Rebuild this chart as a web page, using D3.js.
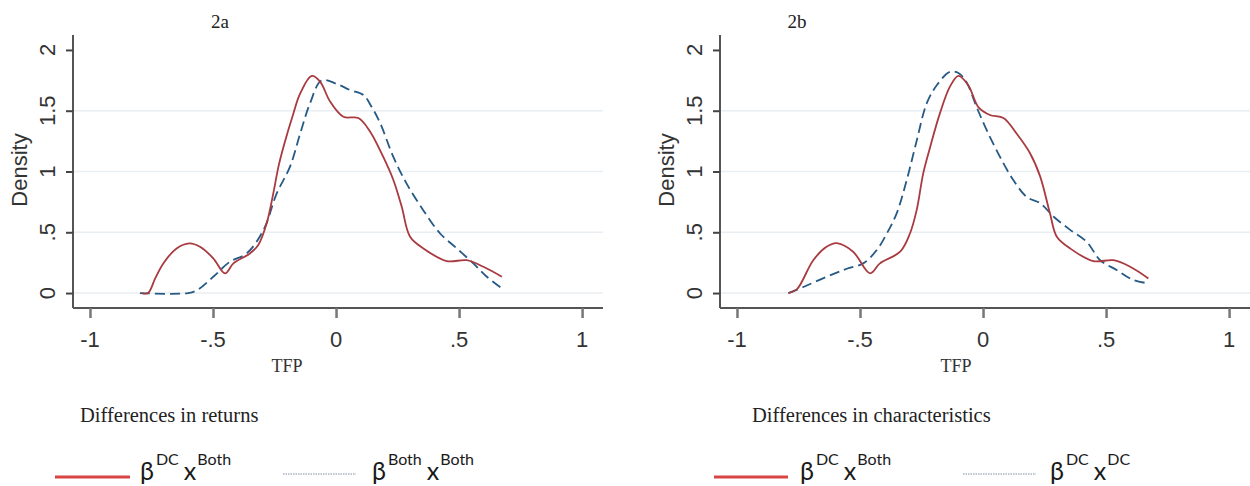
<!DOCTYPE html>
<html><head><meta charset="utf-8">
<script src="https://cdn.jsdelivr.net/npm/d3@7"></script>
<style>body{margin:0;background:#fff}svg{display:block}</style>
</head><body><svg id="c" width="1250" height="486"></svg>
<script>
// ---- data ----
const xTicks = [-1, -0.5, 0, 0.5, 1];
const xTickLabels = ["-1", "-.5", "0", ".5", "1"];
const yTicks = [0, 0.5, 1, 1.5, 2];
const yTickLabels = ["0", ".5", "1", "1.5", "2"];
const gridValues = [0, 0.5, 1, 1.5];
const panelTitles = ["2a", "2b"];
const panelSubtitles = ["Differences in returns", "Differences in characteristics"];
const legendLabels = [
  [["β", "DC", "x", "Both"], ["β", "Both", "x", "Both"]],
  [["β", "DC", "x", "Both"], ["β", "DC", "x", "DC"]]
];
// panel 2a
const returnsRed = [[-0.789,0],[-0.764,0.0],[-0.735,0.12],[-0.702,0.244],[-0.648,0.367],[-0.596,0.409],[-0.553,0.381],[-0.499,0.286],[-0.451,0.162],[-0.417,0.244],[-0.350,0.326],[-0.316,0.395],[-0.282,0.573],[-0.255,0.82],[-0.234,1.04],[-0.214,1.20],[-0.173,1.48],[-0.146,1.64],[-0.099,1.786],[-0.065,1.74],[-0.024,1.575],[0.030,1.45],[0.091,1.44],[0.138,1.33],[0.192,1.12],[0.233,0.93],[0.267,0.71],[0.301,0.463],[0.355,0.367],[0.450,0.263],[0.531,0.27],[0.599,0.216],[0.674,0.134]];
const returnsBlue = [[-0.797,0],[-0.600,0],[-0.560,0.03],[-0.499,0.134],[-0.431,0.258],[-0.363,0.326],[-0.295,0.518],[-0.241,0.82],[-0.187,1.04],[-0.146,1.31],[-0.106,1.56],[-0.058,1.75],[0.003,1.72],[0.057,1.67],[0.111,1.63],[0.145,1.53],[0.179,1.40],[0.233,1.12],[0.287,0.90],[0.355,0.68],[0.423,0.49],[0.491,0.367],[0.558,0.244],[0.613,0.134],[0.674,0.038]];
// panel 2b
const charsRed = [[-0.791,0],[-0.757,0.03],[-0.690,0.27],[-0.636,0.38],[-0.595,0.41],[-0.528,0.34],[-0.459,0.162],[-0.419,0.244],[-0.337,0.34],[-0.297,0.49],[-0.270,0.68],[-0.243,0.985],[-0.215,1.20],[-0.175,1.48],[-0.134,1.70],[-0.100,1.786],[-0.060,1.71],[-0.019,1.53],[0.028,1.465],[0.083,1.44],[0.137,1.31],[0.191,1.15],[0.232,0.96],[0.272,0.656],[0.300,0.463],[0.354,0.367],[0.448,0.263],[0.530,0.27],[0.598,0.216],[0.672,0.12]];
const charsBlue = [[-0.791,0],[-0.730,0.05],[-0.636,0.134],[-0.554,0.20],[-0.487,0.244],[-0.432,0.354],[-0.391,0.49],[-0.351,0.656],[-0.310,0.93],[-0.270,1.25],[-0.229,1.56],[-0.188,1.71],[-0.134,1.82],[-0.100,1.81],[-0.066,1.73],[-0.026,1.53],[0.015,1.34],[0.069,1.12],[0.123,0.93],[0.178,0.79],[0.232,0.74],[0.286,0.63],[0.354,0.52],[0.422,0.42],[0.476,0.27],[0.543,0.19],[0.611,0.107],[0.672,0.08]];

// ---- drawing ----
const svg = d3.select("#c");
const RED = "#a83a40", BLUE = "#265a85";
const panels = [
  {off: 0, red: returnsRed, blue: returnsBlue, titleX: 220, tfpX: 287, subX: 80,
   leg: {red: [55,130], txt1: 140, dot: [283,356], txt2: 372}},
  {off: 647, red: charsRed, blue: charsBlue, titleX: 797, tfpX: 956, subX: 752,
   leg: {red: [714,788], txt1: 800, dot: [963,1036], txt2: 1050}}
];

panels.forEach((p, i) => {
  const g = svg.append("g");
  const x = d3.scaleLinear().domain([-1.069, 1.085]).range([73 + p.off, 603 + p.off]);
  const y = d3.scaleLinear().domain([-0.123, 2.123]).range([308, 35]);

  // gridlines
  g.selectAll(".grid").data(gridValues).join("line")
    .attr("x1", x.range()[0]).attr("x2", x.range()[1])
    .attr("y1", d => y(d)).attr("y2", d => y(d))
    .attr("stroke", "#e8eef1").attr("stroke-width", 1.5);

  // y axis
  const ya = g.append("g").attr("transform", `translate(${x.range()[0]},0)`)
    .call(d3.axisLeft(y).tickValues(yTicks).tickSize(7).tickFormat(""));
  ya.select(".domain").attr("stroke", "#555").attr("stroke-width", 2)
    .attr("d", `M0,${y.range()[1]}V${y.range()[0]}`);
  ya.selectAll(".tick line").attr("stroke", "#444").attr("stroke-width", 2);
  g.selectAll(".ylab").data(yTicks).join("text")
    .attr("transform", (d) => `translate(${55 + p.off},${y(d)}) rotate(-90)`)
    .attr("text-anchor", "middle")
    .style("font-family", "'Liberation Sans', Arial, sans-serif").style("font-size", "22px")
    .attr("fill", "#333").text((d, j) => yTickLabels[j]);

  // x axis
  const xa = g.append("g").attr("transform", `translate(0,308)`)
    .call(d3.axisBottom(x).tickValues(xTicks).tickSize(10).tickFormat(""));
  xa.select(".domain").attr("stroke", "#555").attr("stroke-width", 2)
    .attr("d", `M${x.range()[0]},0H${x.range()[1]}`);
  xa.selectAll(".tick line").attr("stroke", "#777").attr("stroke-width", 2.5);
  g.selectAll(".xlab").data(xTicks).join("text")
    .attr("x", d => x(d)).attr("y", 347).attr("text-anchor", "middle")
    .style("font-family", "'Liberation Sans', Arial, sans-serif").style("font-size", "22px")
    .attr("fill", "#333").text((d, j) => xTickLabels[j]);

  // axis titles
  g.append("text").attr("transform", `translate(${27 + p.off},170) rotate(-90)`)
    .attr("text-anchor", "middle")
    .style("font-family", "'Liberation Sans', Arial, sans-serif").style("font-size", "22px")
    .attr("fill", "#333").text("Density");
  g.append("text").attr("x", p.tfpX).attr("y", 372).attr("text-anchor", "middle")
    .style("font-family", "'Liberation Serif', 'Times New Roman', serif").style("font-size", "18px")
    .attr("fill", "#333").text("TFP");
  g.append("text").attr("x", p.titleX).attr("y", 28).attr("text-anchor", "middle")
    .style("font-family", "'Liberation Serif', 'Times New Roman', serif").style("font-size", "19px")
    .attr("fill", "#222").text(panelTitles[i]);

  // curves
  const line = d3.line().x(d => x(d[0])).y(d => y(d[1])).curve(d3.curveCatmullRom.alpha(0.5));
  g.append("path").attr("d", line(p.blue)).attr("fill", "none")
    .attr("stroke", BLUE).attr("stroke-width", 1.8).attr("stroke-dasharray", "10,5");
  g.append("path").attr("d", line(p.red)).attr("fill", "none")
    .attr("stroke", RED).attr("stroke-width", 1.8);

  // subtitle + legend
  g.append("text").attr("x", p.subX).attr("y", 422)
    .style("font-family", "'Liberation Serif', 'Times New Roman', serif").style("font-size", "20.5px")
    .attr("fill", "#222").text(panelSubtitles[i]);
  g.append("line").attr("x1", p.leg.red[0]).attr("x2", p.leg.red[1]).attr("y1", 477).attr("y2", 477)
    .attr("stroke", "#d94444").attr("stroke-width", 3);
  g.append("line").attr("x1", p.leg.dot[0]).attr("x2", p.leg.dot[1]).attr("y1", 474).attr("y2", 474)
    .attr("stroke", "#8090a8").attr("stroke-width", 1.2).attr("stroke-dasharray", "1.5,1");
  [p.leg.txt1, p.leg.txt2].forEach((tx, k) => {
    const parts = legendLabels[i][k];
    const t = g.append("text").attr("x", tx).attr("y", 480)
      .style("font-family", "Lato, 'Open Sans', sans-serif").attr("fill", "#1a1a1a");
    t.append("tspan").style("font-size", "25px").text(parts[0]);
    t.append("tspan").style("font-size", "16px").attr("dy", -15).attr("dx", 2).text(parts[1]);
    t.append("tspan").style("font-size", "25px").attr("dy", 15).attr("dx", 5).text(parts[2]);
    t.append("tspan").style("font-size", "16px").attr("dy", -15).attr("dx", 1).text(parts[3]);
  });
});
</script></body></html>
